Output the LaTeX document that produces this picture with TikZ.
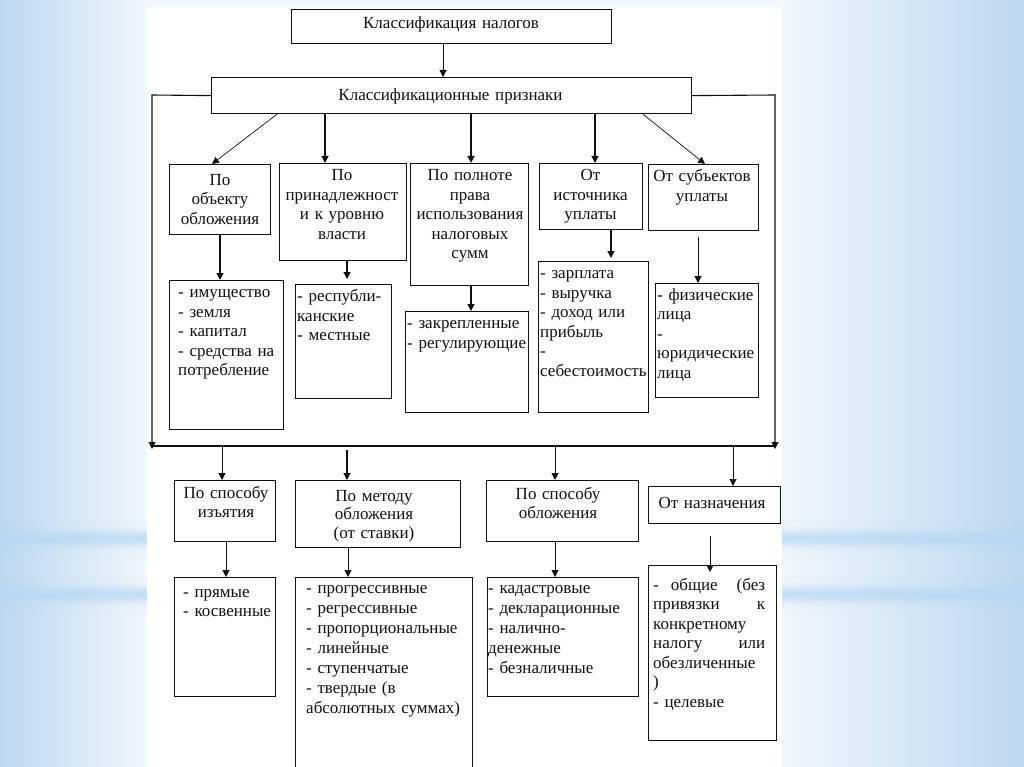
\documentclass[tikz,border=0pt]{standalone}
\usepackage{fontspec}
\setmainfont{Liberation Serif}
\usetikzlibrary{arrows.meta}
\definecolor{bgedge}{HTML}{BDD8EF}
\definecolor{bgin}{HTML}{F0F7FD}
\definecolor{bandc}{HTML}{B6D7F4}
\definecolor{ink}{HTML}{111111}
\newcommand\mkbox[5]{\node[bx, minimum width={(#4-#2)*1pt}, minimum height={(#5-#3)*1pt}] (#1) at (#2,#3) {};}
\newcommand\mkband[3]{% x1, x2, centre y
  \foreach \i [evaluate=\i as \op using {0.75*exp(-(\i/8)^2)}] in {-18,...,18}
    {\fill[bandc, fill opacity=\op] (#1,#3+\i-0.5) rectangle (#2,#3+\i+0.5);}}
\tikzset{
  bx/.style={draw=ink, line width=1.2pt, inner sep=0pt, anchor=north west},
  tx/.style={inner sep=0pt, anchor=north, text height=12pt, font=\fontsize{17}{19.5}\selectfont, text=ink, align=center},
  lt/.style={inner sep=0pt, anchor=north west, text height=12pt, font=\fontsize{17}{19.5}\selectfont, text=ink, align=left},
  lt20/.style={lt, font=\fontsize{17}{20}\selectfont},
  arr/.style={draw=ink, line width=1pt, -{Triangle[length=7pt,width=7pt]}},
  ln/.style={draw=ink, line width=1.1pt},
}
\begin{document}
\begin{tikzpicture}[x=1pt,y=-1pt]
\useasboundingbox (0,0) rectangle (1024,767);
\clip (0,0) rectangle (1024,767);
% background
\fill[bgin] (0,0) rectangle (1024,767);
\shade[left color=bgedge, right color=bgin] (0,0) rectangle (147,767);
\shade[left color=bgin, right color=bgedge] (782,0) rectangle (1024,767);
\mkband{0}{147}{538}
\mkband{0}{147}{594}
\mkband{782}{1024}{538}
\mkband{782}{1024}{594}
\fill[white] (147,7) rectangle (782,767);

% boxes
\mkbox{t0}{291}{9}{611}{43}
\mkbox{t1}{211}{77}{691}{113}
\mkbox{a1}{169}{164}{270}{234}
\mkbox{a2}{279}{163}{406}{260}
\mkbox{a3}{410}{163}{528}{285}
\mkbox{a4}{539}{163}{642}{229}
\mkbox{a5}{648}{164}{758}{230}
\mkbox{b1}{169}{280}{283}{429}
\mkbox{b2}{295}{284}{391}{398}
\mkbox{b3}{405}{311}{528}{412}
\mkbox{b4}{538}{261}{648}{412}
\mkbox{b5}{655}{283}{758}{397}
\mkbox{c1}{174}{480}{275}{541}
\mkbox{c2}{295}{480}{460}{547}
\mkbox{c3}{486}{480}{638}{541}
\mkbox{c4}{648}{486}{780}{523}
\mkbox{d1}{174}{577}{275}{696}
\mkbox{d2}{295}{577}{472}{790}
\mkbox{d3}{487}{577}{638}{696}
\mkbox{d4}{648}{565}{776}{740}

% texts
\node[tx, text width=200pt] at (451,16) {Классификация налогов};
\node[tx, text width=300pt] at (450.5,88.5) {Классификационные признаки};
\node[tx, text width=100pt] at (220,173) {По\\объекту\\обложения};
\node[tx, text width=125pt] at (342,168.7) {По\\принадлежност\\и к уровню\\власти};
\node[tx, text width=125pt] at (470,168.7) {По полноте\\права\\использования\\налоговых\\сумм};
\node[tx, text width=110pt] at (590.5,168.7) {От\\источника\\уплаты};
\node[tx, text width=110pt] at (702,169.7) {От субъектов\\уплаты};

\node[lt, text width=120pt] at (178,285.7) {- имущество\\- земля\\- капитал\\- средства на\\потребление};
\node[lt, text width=110pt] at (297,289.7) {- республи-\\канские\\- местные};
\node[lt, text width=130pt] at (407,316.3) {- закрепленные\\- регулирующие};
\node[lt, text width=120pt] at (540,266.3) {- зарплата\\- выручка\\- доход или\\прибыль\\-\\себестоимость};
\node[lt, text width=110pt] at (657,288) {- физические\\лица\\-\\юридические\\лица};

\node[tx, text width=110pt] at (226,486) {По способу\\изъятия};
\node[tx, text width=160pt, font=\fontsize{17}{18.5}\selectfont] at (374,489) {По методу\\обложения\\(от ставки)};
\node[tx, text width=150pt] at (558,487) {По способу\\обложения};
\node[tx, text width=130pt] at (712,496) {От назначения};

\node[lt, text width=100pt] at (183,585) {- прямые\\- косвенные};
\node[lt20, text width=170pt] at (306,581) {- прогрессивные\\- регрессивные\\- пропорциональные\\- линейные\\- ступенчатые\\- твердые (в\\абсолютных суммах)};
\node[lt20, text width=150pt] at (488,581) {- кадастровые\\- декларационные\\- налично-\\денежные\\- безналичные};
\node[lt, text width=112pt] at (653,578) {\makebox[112pt][s]{-\hspace{12pt}общие\hfill(без}\\\makebox[112pt][s]{привязки\hfill к}\\конкретному\\\makebox[112pt][s]{налогу\hfill или}\\обезличенные\\)\\- целевые};

% connector coordinates
\coordinate (cl) at (152,95);
\coordinate (cr) at (775,95);
\coordinate (el) at (152,449);
\coordinate (er) at (775,449);
\coordinate (busL) at (152,446);
\coordinate (busR) at (775,446);

% connectors
\draw[arr] (443,0 |- t0.south) -- (443,0 |- t1.north);
\draw[arr, line width=1.1pt] (t1.west) -- (cl) -- (el);
\draw[arr, line width=1.1pt] (t1.east) -- (cr) -- (er);
\draw[ln] (busL) -- (busR);

\draw[arr, line width=0.7pt] (277,0 |- t1.south) -- (212,0 |- a1.north);
\draw[arr, line width=1.3pt] (325,0 |- t1.south) -- (325,0 |- a2.north);
\draw[arr, line width=1.3pt] (471,0 |- t1.south) -- (471,0 |- a3.north);
\draw[arr, line width=1.3pt] (595,0 |- t1.south) -- (595,0 |- a4.north);
\draw[arr, line width=0.7pt] (643,0 |- t1.south) -- (705,0 |- a5.north);

\draw[arr, line width=1.3pt] (220,0 |- a1.south) -- (220,0 |- b1.north);
\draw[arr, shorten >=5pt, line width=1.3pt] (347,0 |- a2.south) -- (347,0 |- b2.north);
\draw[arr, line width=1.3pt] (471,0 |- a3.south) -- (471,0 |- b3.north);
\draw[arr, shorten >=3pt, line width=1.3pt] (611,0 |- a4.south) -- (611,0 |- b4.north);
\draw[arr, shorten <=6pt] (698,0 |- a5.south) -- (698,0 |- b5.north);

\draw[arr] (222,0 |- busL) -- (222,0 |- c1.north);
\draw[arr, shorten <=4pt, line width=1.3pt] (347,0 |- busL) -- (347,0 |- c2.north);
\draw[arr] (555,0 |- busL) -- (555,0 |- c3.north);
\draw[arr] (733,0 |- busL) -- (733,0 |- c4.north);

\draw[arr] (226,0 |- c1.south) -- (226,0 |- d1.north);
\draw[arr] (348,0 |- c2.south) -- (348,0 |- d2.north);
\draw[arr] (555,0 |- c3.south) -- (555,0 |- d3.north);
\draw[arr, shorten <=12pt, shorten >=-7pt] (710,0 |- c4.south) -- (710,0 |- d4.north);
\end{tikzpicture}
\end{document}
